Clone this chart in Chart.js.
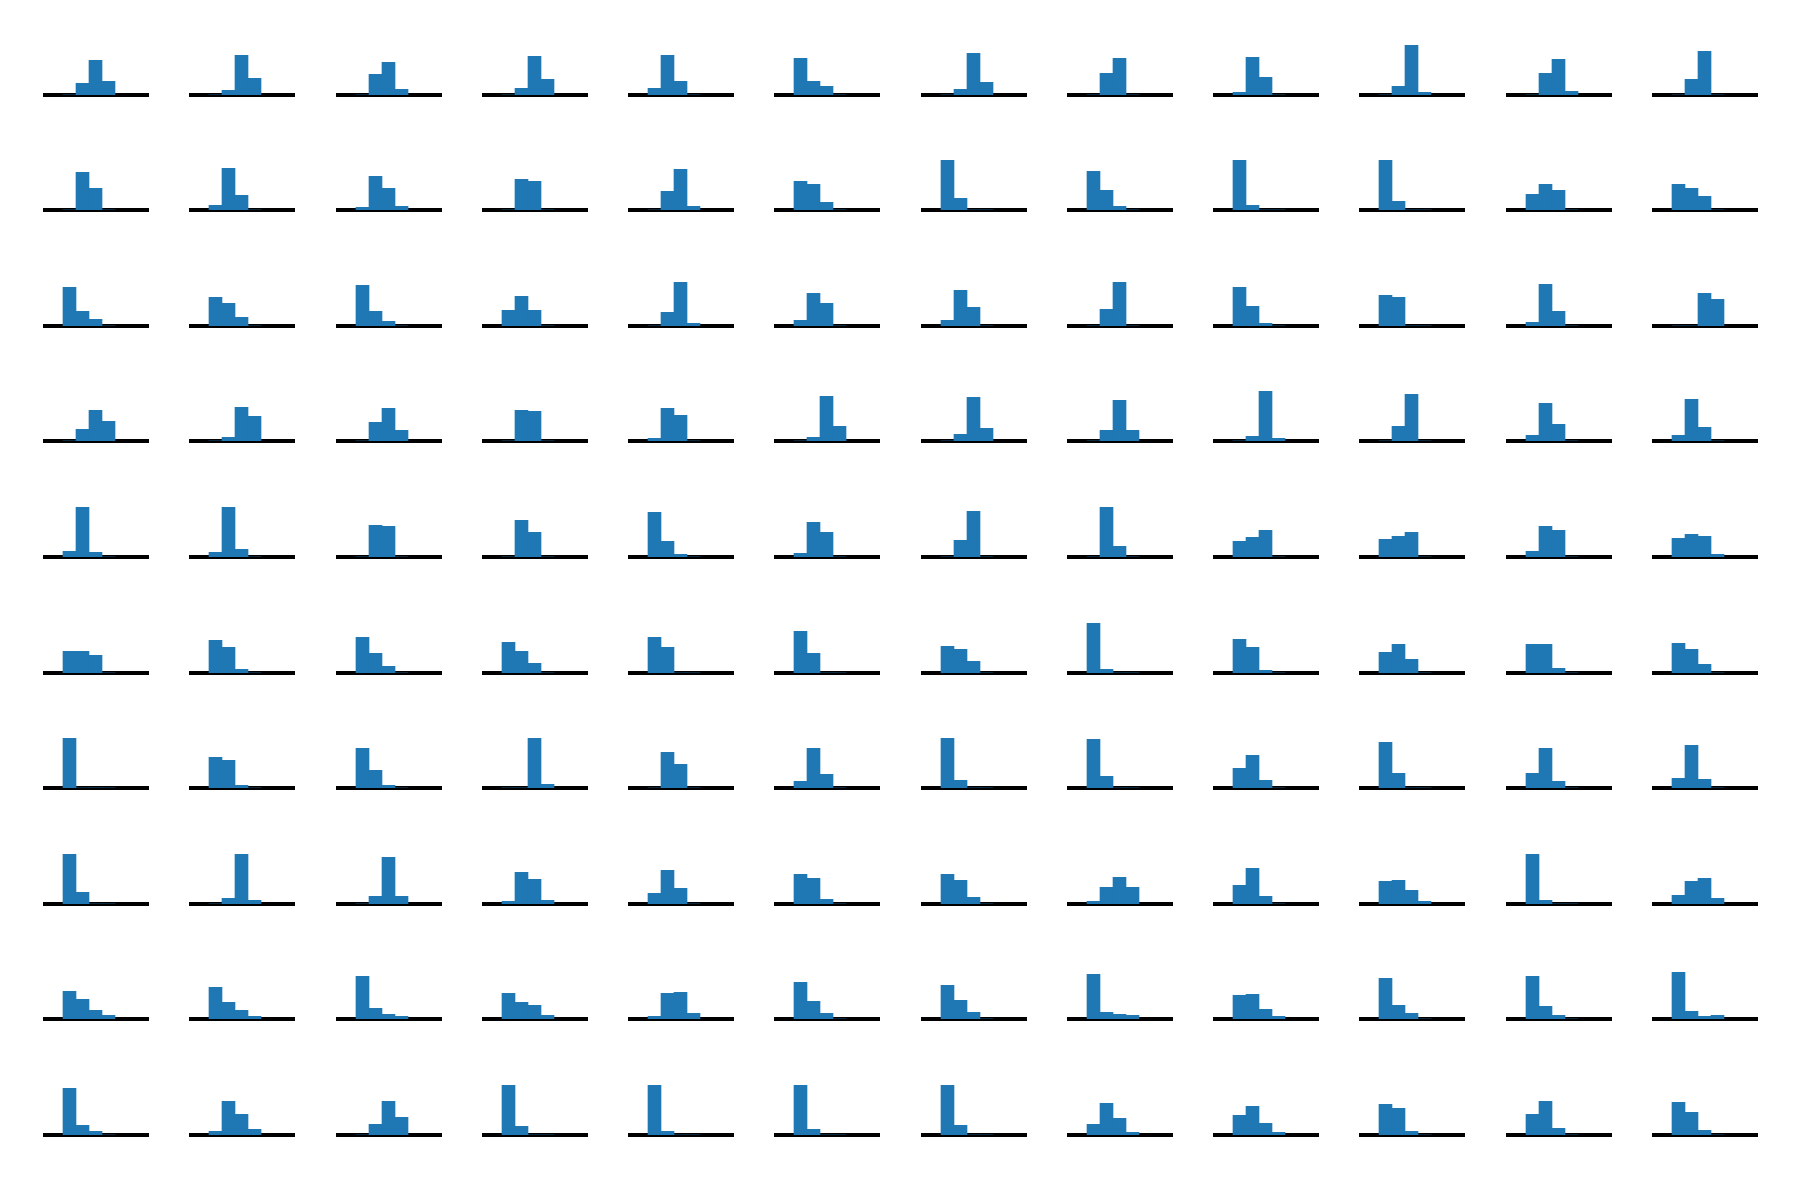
<!DOCTYPE html>
<html>
<head>
<meta charset="utf-8">
<script src="https://cdn.jsdelivr.net/npm/chart.js@4.4.1/dist/chart.umd.min.js"></script>
<style>
  html, body { margin: 0; padding: 0; background: #ffffff; }
  #fig { position: relative; width: 1800px; height: 1200px; overflow: hidden; background: #ffffff; }
  #fig canvas { position: absolute; }
</style>
</head>
<body>
<div id="fig"></div>
<script>
// Bin centres shared by every small histogram (4 bins of width 1)
const binCenters = [0.5, 1.5, 2.5, 3.5];

// Bar heights per subplot, row by row (12 subplots per row, 4 bins each)
const row01 = [[0,35,104,41],[0,14,119,50],[0,62,98,17],[0,20,116,47],[20,119,41,0],[110,41,26,0],[0,17,125,38],[0,65,110,0],[8,113,53,0],[0,26,150,8],[0,65,107,11],[0,47,131,0]];
const row02 = [[0,113,65,0],[14,125,44,0],[8,101,65,11],[0,92,86,0],[0,56,122,11],[86,77,23,0],[150,35,0,0],[116,59,11,0],[150,14,0,0],[150,26,0,0],[47,77,59,0],[77,65,41,0]];
const row03 = [[116,44,20,0],[86,68,26,0],[122,44,14,0],[47,89,47,0],[0,41,131,8],[17,98,68,0],[17,107,56,0],[0,50,131,0],[116,59,8,0],[92,86,0,0],[11,125,44,0],[0,0,98,80]];
const row04 = [[0,35,92,59],[0,11,101,74],[0,56,98,32],[0,92,89,0],[8,98,77,0],[0,11,134,44],[0,20,131,38],[0,32,122,32],[0,14,150,8],[0,44,140,0],[17,113,50,0],[17,125,41,0]];
const row05 = [[17,150,14,0],[14,150,23,0],[0,95,92,0],[0,110,74,0],[134,47,8,0],[11,104,74,0],[0,50,137,0],[0,150,32,0],[47,59,80,0],[53,62,74,0],[17,92,80,0],[56,68,62,8]];
const row06 = [[65,65,53,0],[98,77,11,0],[107,59,20,0],[92,65,29,0],[107,77,0,0],[125,59,0,0],[80,71,35,0],[150,11,0,0],[101,77,8,0],[62,86,41,0],[86,86,14,0],[89,71,26,0]];
const row07 = [[150,0,0,0],[92,83,8,0],[119,53,8,0],[0,0,150,11],[0,107,71,0],[20,119,41,0],[150,23,0,0],[146,35,0,0],[59,98,23,0],[137,44,0,0],[44,119,20,0],[29,128,26,0]];
const row08 = [[150,35,0,0],[0,17,150,11],[0,23,140,23],[8,95,74,11],[32,101,47,0],[89,77,14,0],[89,71,20,0],[8,50,80,50],[56,107,23,0],[68,71,41,8],[150,11,0,0],[26,68,77,17]];
const row09 = [[83,59,26,11],[95,50,26,8],[128,32,14,8],[77,50,41,11],[8,77,80,17],[110,53,17,0],[101,56,20,0],[134,20,14,11],[71,74,29,8],[122,41,17,0],[128,38,11,0],[140,23,8,11]];
const row10 = [[140,29,11,0],[11,101,62,17],[0,32,101,53],[150,26,0,0],[150,11,0,0],[150,17,0,0],[150,29,0,0],[32,95,50,8],[59,86,35,8],[92,80,11,0],[62,101,20,0],[98,68,14,0]];

const rows = [row01, row02, row03, row04, row05, row06, row07, row08, row09, row10];

// Shared axis limits
const yMax = 150;
const xMin = -1.538;
const xMax = 6.538;

// Layout of the grid
const AREA_W = 105, AREA_H = 50, PAD = 3;
const COL0 = 43, COL_STEP = 146.27;
const ROW0 = 94.7, ROW_STEP = 115.56;

const fig = document.getElementById('fig');

rows.forEach((row, r) => {
  row.forEach((vals, c) => {
    const canvas = document.createElement('canvas');
    const left = Math.round(COL0 + COL_STEP * c);
    const base = ROW0 + ROW_STEP * r;
    const top = Math.round(base - AREA_H) - PAD;
    canvas.width = AREA_W + PAD;
    canvas.height = AREA_H + 2 * PAD + 1;
    canvas.style.left = left + 'px';
    canvas.style.top = top + 'px';
    fig.appendChild(canvas);
    new Chart(canvas, {
      type: 'bar',
      data: {
        datasets: [{
          data: binCenters.map((x, i) => ({ x: x, y: vals[i] })),
          backgroundColor: '#1f77b4',
          borderWidth: 0,
          barPercentage: 1,
          categoryPercentage: 1
        }]
      },
      options: {
        responsive: false,
        animation: false,
        layout: { padding: { left: 0, right: PAD, top: PAD, bottom: PAD + 1 } },
        plugins: { legend: { display: false }, tooltip: { enabled: false } },
        scales: {
          x: {
            type: 'linear',
            offset: false,
            min: xMin,
            max: xMax,
            grid: { display: false, drawTicks: false, offset: false },
            border: { display: true, color: '#000000', width: 4 },
            ticks: { display: false, stepSize: 1, includeBounds: false }
          },
          y: { display: false, min: 0, max: yMax }
        }
      }
    });
  });
});
</script>
</body>
</html>
